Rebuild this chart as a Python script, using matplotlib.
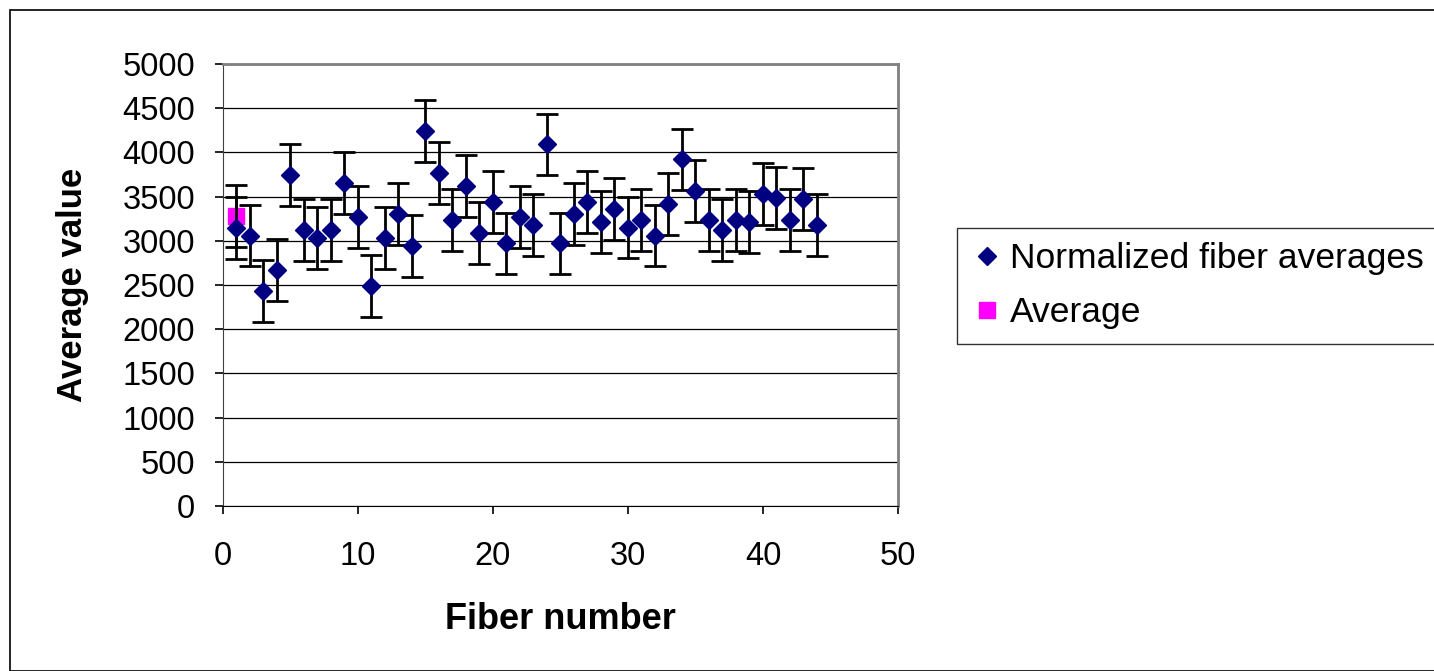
import matplotlib
matplotlib.use("Agg")
from matplotlib import pyplot as plt
from matplotlib.patches import Rectangle

plt.rcParams['font.family'] = ['Liberation Sans', 'DejaVu Sans']

# fiber numbers and their normalized averages
fiber_num = list(range(1, 45))
fiber_avg = [3140, 3060, 2430, 2670, 3740, 3120, 3030, 3120, 3650, 3270,
             2490, 3030, 3300, 2940, 4240, 3770, 3240, 3620, 3090, 3440,
             2970, 3270, 3180, 4090, 2970, 3300, 3440, 3210, 3360, 3150,
             3240, 3060, 3420, 3920, 3560, 3240, 3120, 3240, 3210, 3530,
             3480, 3240, 3470, 3180]
fiber_err = [350] * len(fiber_num)

# overall average point
avg_x = [1]
avg_y = [3280]
avg_err = [350]

fig = plt.figure(figsize=(14.34, 6.71), dpi=100)
ax = fig.add_axes([0.1555, 0.2459, 0.4707, 0.6587])

# outer chart border
fig.patches.append(Rectangle((10 / 1434, 0), 1.0, 1 - 10 / 671, transform=fig.transFigure,
                             fill=False, edgecolor='black', linewidth=1.2))

ax.errorbar(fiber_num, fiber_avg, yerr=fiber_err, fmt='D', color='#000080',
            markersize=9, ecolor='black', elinewidth=2, capsize=8, capthick=2,
            label='Normalized fiber averages', zorder=3)
ax.errorbar(avg_x, avg_y, yerr=avg_err, fmt='s', color='#FF00FF',
            markersize=11, ecolor='black', elinewidth=2, capsize=8, capthick=2,
            label='Average', zorder=2)

ax.set_xlim(0, 50)
ax.set_ylim(0, 5000)
ax.set_xticks(range(0, 51, 10))
ax.set_yticks(range(0, 5001, 500))
ax.tick_params(axis='both', labelsize=23.5, direction='out', length=6, width=1.2)
ax.tick_params(axis='x', pad=19)
ax.tick_params(axis='y', pad=14)
ax.grid(axis='y', color='black', linewidth=0.9)
ax.set_axisbelow(True)

for side in ['top', 'right']:
    ax.spines[side].set_color('#808080')
    ax.spines[side].set_linewidth(2)
ax.spines['left'].set_color('#404040')
ax.spines['bottom'].set_color('black')

ax.set_xlabel('Fiber number', fontsize=26, fontweight='bold', labelpad=22)
ax.set_ylabel('Average value', fontsize=25, fontweight='bold', labelpad=24)

handles, labels = ax.get_legend_handles_labels()
handles = [h[0] for h in handles]
leg = fig.legend(handles, labels, loc='upper left', bbox_to_anchor=(957 / 1434, 1 - 228 / 671),
                 fontsize=25.5, frameon=True, fancybox=False, edgecolor='black',
                 handletextpad=0.2, handlelength=0.9, labelspacing=0.6, borderpad=0.4,
                 borderaxespad=0)
leg.get_frame().set_linewidth(1.0)

plt.savefig('out.png', dpi=100)
plt.close()
